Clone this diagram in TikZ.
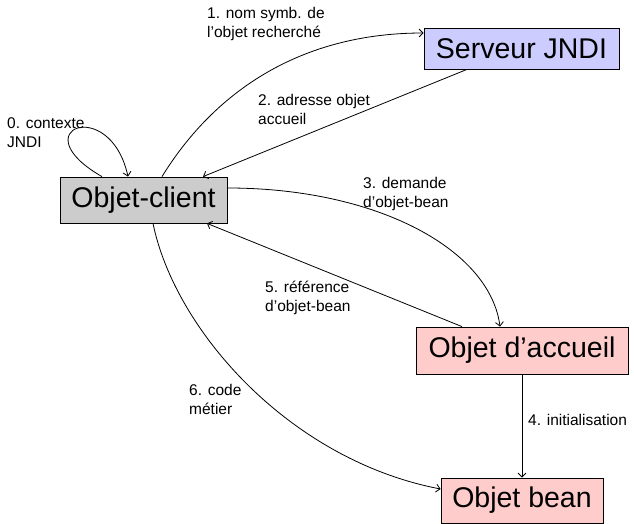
\documentclass[tikz,border=0pt]{standalone}
\usepackage{fontspec}
\setmainfont{Liberation Sans}
\usetikzlibrary{arrows.meta}
\begin{document}
\begin{tikzpicture}[x=1pt,y=-1pt,
  box/.style={draw=black,line width=0.8pt,inner sep=0pt,minimum height=45pt,
    font=\fontsize{28.5}{34}\selectfont},
  lbl/.style={inner sep=0pt,align=left,anchor=west,
    font=\fontsize{15.5}{19}\selectfont},
  conn/.style={draw=black,line width=0.8pt,-{Straight Barb[length=4pt,width=8pt]}}]
\useasboundingbox (0,0) rectangle (634,524);
\definecolor{lav}{RGB}{204,204,255}
\definecolor{gry}{RGB}{204,204,204}
\definecolor{pnk}{RGB}{255,204,204}
% nodes
\node[box,fill=gry,minimum width=167pt,minimum height=46pt] (client) at (143.5,200) {Objet-client};
\node[box,fill=lav,minimum width=195pt,minimum height=41pt] (serveur) at (521.5,48.5) {Serveur JNDI};
\node[box,fill=pnk,minimum width=212pt,minimum height=47pt] (accueil) at (522,350.5) {Objet d’accueil};
\node[box,fill=pnk,minimum width=162pt,minimum height=45pt] (bean) at (522,500.5) {Objet bean};
% labels
\node[lbl] (l0) at (7,133) {0. contexte\\JNDI};
\node[lbl] (l1) at (207,24) {1. nom symb. de\\l’objet recherché};
\node[lbl] (l2) at (258,109) {2. adresse objet\\accueil};
\node[lbl] (l3) at (363,193.5) {3. demande\\d’objet-bean};
\node[lbl] (l4) at (528,420) {4. initialisation};
\node[lbl] (l5) at (265,297.5) {5. référence\\d’objet-bean};
\node[lbl] (l6) at (189,399.5) {6. code\\métier};
% connectors
\draw[conn] ([xshift=-41.5pt]client.north) .. controls +(-82,-47) and +(-18,-82) .. ([xshift=-15.5pt]client.north);
\draw[conn] ([xshift=18.5pt]client.north) .. controls +(53,-86) and +(-122,0) .. ([yshift=15.5pt]serveur.west);
\draw[conn] ([xshift=-54.5pt]serveur.south) -- ([xshift=59.5pt]client.north);
\draw[conn] ([yshift=12pt]client.east) .. controls +(150,0) and +(-10,-77) .. ([xshift=-22pt]accueil.north);
\draw[conn] (accueil.south) -- (bean.north);
\draw[conn] ([xshift=-60pt]accueil.north) -- ([xshift=63.5pt]client.south);
\draw[conn] ([xshift=9.5pt]client.south) .. controls +(22,107) and +(-151,-29) .. ([yshift=11.5pt]bean.west);
\end{tikzpicture}
\end{document}
